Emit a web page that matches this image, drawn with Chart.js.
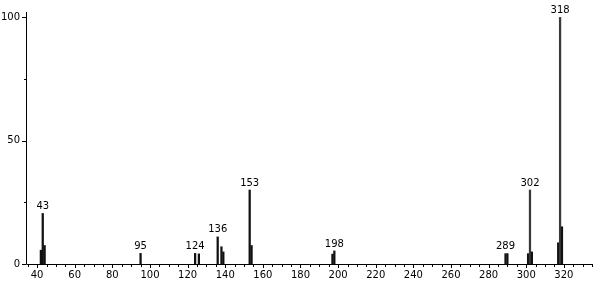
<!DOCTYPE html>
<html>
<head>
<meta charset="utf-8">
<script src="https://cdn.jsdelivr.net/npm/chart.js@4.4.0/dist/chart.umd.min.js"></script>
<style>
html,body{margin:0;padding:0;background:#fff;}
#wrap{width:596px;height:281px;position:relative;}
</style>
</head>
<body>
<div id="wrap"><canvas id="c" width="596" height="281"></canvas></div>
<script>
// m/z values of the peaks
const mz = [42, 43, 44, 95, 124, 126, 136, 138, 139, 153, 154, 197, 198, 289, 290, 301, 302, 303, 317, 318, 319];
// relative intensities (%)
const intensity = [5.6, 20.5, 7.5, 4.3, 4.3, 4.1, 11, 7, 4.9, 30, 7.5, 4, 5.3, 4.2, 4.2, 4.2, 30, 4.9, 8.6, 100, 15.1];
// peaks that carry a label
const labeledPeaks = [43, 95, 124, 136, 153, 198, 289, 302, 318];
// axis tick labels
const xTickLabels = [40, 60, 80, 100, 120, 140, 160, 180, 200, 220, 240, 260, 280, 300, 320];
const yTickLabels = [0, 50, 100];
const yMinorTicks = [25, 75];

const FONT = '10px "DejaVu Sans", sans-serif';

const tickPlugin = {
  id: 'customTicks',
  afterDraw(chart) {
    const ctx = chart.ctx;
    const xs = chart.scales.x, ys = chart.scales.y;
    const ca = chart.chartArea;
    ctx.save();
    ctx.strokeStyle = '#000';
    ctx.lineWidth = 1;
    // axis lines
    ctx.beginPath();
    ctx.moveTo(ca.left + 0.5, ca.top);
    ctx.lineTo(ca.left + 0.5, ca.bottom + 0.5);
    ctx.lineTo(ca.right, ca.bottom + 0.5);
    ctx.stroke();
    // x ticks every 5
    ctx.beginPath();
    for (let v = 35; v <= xs.max; v += 5) {
      const px = Math.round(xs.getPixelForValue(v)) + 0.5;
      if (px < ca.left + 1) continue;
      const major = v % 20 === 0;
      ctx.moveTo(px, ca.bottom);
      ctx.lineTo(px, ca.bottom + (major ? 4 : 3));
    }
    ctx.stroke();
    // y ticks
    ctx.beginPath();
    yTickLabels.forEach(v => {
      const py = Math.round(ys.getPixelForValue(v)) + 0.5;
      ctx.moveTo(ca.left, py);
      ctx.lineTo(ca.left - 4, py);
    });
    yMinorTicks.forEach(v => {
      const py = Math.round(ys.getPixelForValue(v)) + 0.5;
      ctx.moveTo(ca.left, py);
      ctx.lineTo(ca.left - 2, py);
    });
    ctx.stroke();
    // peak labels
    ctx.fillStyle = '#000';
    ctx.font = FONT;
    ctx.textAlign = 'center';
    ctx.textBaseline = 'bottom';
    const meta = chart.getDatasetMeta(0);
    meta.data.forEach((bar, i) => {
      if (labeledPeaks.includes(mz[i])) {
        ctx.fillText(String(mz[i]), bar.x, bar.y - 2);
      }
    });
    ctx.restore();
  }
};

new Chart(document.getElementById('c'), {
  type: 'bar',
  data: {
    datasets: [{
      data: mz.map((m, i) => ({ x: m, y: intensity[i] })),
      backgroundColor: mz.map(m => m === 318 || m === 302 ? '#3a3a3a' : '#111'),
      barThickness: 1.6,
      borderWidth: 0
    }]
  },
  options: {
    responsive: false,
    animation: false,
    devicePixelRatio: 1,
    layout: { padding: { top: 7, right: 3, left: 0, bottom: 0 } },
    plugins: { legend: { display: false }, tooltip: { enabled: false } },
    scales: {
      x: {
        type: 'linear',
        min: 34.1,
        max: 335.5,
        offset: false,
        grid: { display: false, drawTicks: false },
        border: { display: false },
        afterBuildTicks: s => { s.ticks = xTickLabels.map(v => ({ value: v })); },
        afterFit: s => { s.height = 17; },
        ticks: { font: { family: '"DejaVu Sans", sans-serif', size: 10 }, color: '#000', padding: 5, maxRotation: 0, autoSkip: false }
      },
      y: {
        min: 0,
        max: 102.2,
        grid: { display: false, drawTicks: false },
        border: { display: false },
        afterBuildTicks: s => { s.ticks = yTickLabels.map(v => ({ value: v })); },
        afterFit: s => { s.width = 26; },
        ticks: { font: { family: '"DejaVu Sans", sans-serif', size: 10 }, color: '#000', padding: 6 }
      }
    }
  },
  plugins: [tickPlugin]
});
</script>
</body>
</html>
